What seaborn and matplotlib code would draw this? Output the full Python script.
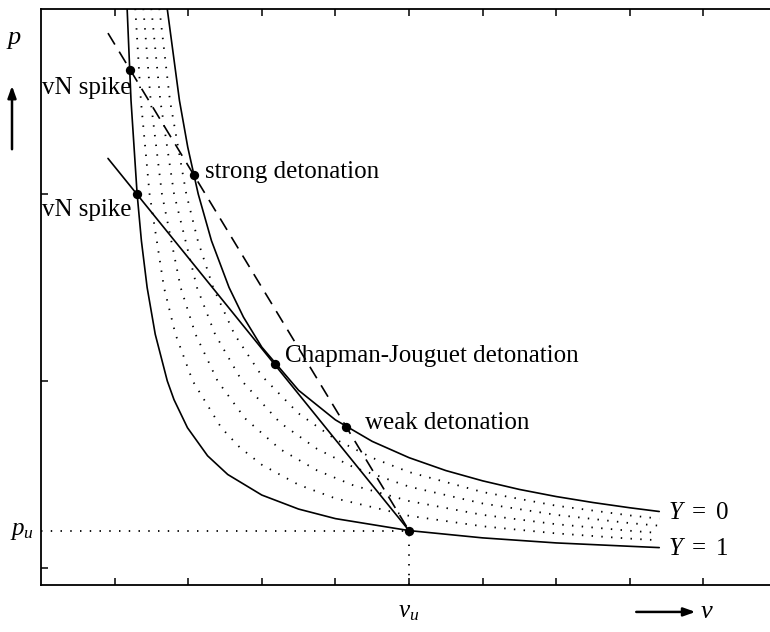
import matplotlib
matplotlib.use("Agg")
import matplotlib.pyplot as plt
import seaborn as sns
import pandas as pd

# Hugoniot curves in the (v, p) plane, Y = 1 (unreacted) ... Y = 0 (fully reacted)
v_Y1 = [1.164, 1.223, 1.306, 1.364, 1.442, 1.552, 1.716, 1.807, 1.990, 2.263, 2.537,
        3.0, 3.5, 4.0, 5.0, 6.0, 7.0, 8.0, 8.4]
p_Y1 = [4.05, 3.5, 3.0, 2.75, 2.5, 2.25, 2.0, 1.9, 1.75, 1.6, 1.5,
        1.390, 1.315, 1.264, 1.200, 1.161, 1.134, 1.116, 1.109]

v_Y08 = [1.272, 1.357, 1.475, 1.671, 1.827, 2.061, 2.449, 2.7, 3.0, 3.5, 4.0, 5.0, 6.0, 7.0, 8.0, 8.4]
p_Y08 = [4.05, 3.5, 3.0, 2.5, 2.25, 2.0, 1.75, 1.645, 1.552, 1.445, 1.372, 1.279, 1.223, 1.185, 1.157, 1.148]

v_Y06 = [1.379, 1.490, 1.643, 1.897, 2.099, 2.399, 2.772, 3.25, 3.75, 4.25, 5.0, 6.0, 7.0, 8.0, 8.4]
p_Y06 = [4.05, 3.5, 3.0, 2.5, 2.25, 2.0, 1.8, 1.635, 1.522, 1.441, 1.358, 1.284, 1.234, 1.199, 1.187]

v_Y04 = [1.485, 1.621, 1.808, 2.119, 2.365, 2.730, 3.25, 3.75, 4.25, 5.0, 6.0, 7.0, 8.0, 8.4]
p_Y04 = [4.05, 3.5, 3.0, 2.5, 2.25, 2.0, 1.776, 1.637, 1.538, 1.435, 1.345, 1.284, 1.240, 1.226]

v_Y02 = [1.591, 1.752, 1.974, 2.131, 2.339, 2.628, 3.0, 3.5, 4.0, 4.5, 5.0, 6.0, 7.0, 8.0, 8.4]
p_Y02 = [4.05, 3.5, 3.0, 2.75, 2.5, 2.25, 2.027, 1.826, 1.688, 1.589, 1.513, 1.406, 1.333, 1.281, 1.264]

v_Y0 = [1.695, 1.881, 1.994, 2.136, 2.316, 2.555, 2.75, 3.0, 3.5, 4.0, 4.5, 5.0, 5.5,
        6.0, 6.5, 7.0, 7.5, 8.0, 8.4]
p_Y0 = [4.05, 3.5, 3.25, 3.0, 2.75, 2.5, 2.342, 2.181, 1.950, 1.792, 1.677, 1.590, 1.521,
        1.466, 1.420, 1.382, 1.350, 1.322, 1.302]

# unburnt state
v_u, p_u = 5.0, 1.2

# Rayleigh lines through the unburnt state
v_cj_line = [0.91, 5.0]
p_cj_line = [3.19, 1.2]
v_ov_line = [0.91, 5.0]
p_ov_line = [3.86, 1.2]

# marked states
pt_v = [1.203, 1.306, 2.075, 3.174, 4.145, 5.0]
pt_p = [3.663, 3.0, 3.100, 2.089, 1.755, 1.2]

labels = ["vN spike", "vN spike", "strong detonation",
          "Chapman-Jouguet detonation", "weak detonation"]
label_v = [0.014, 0.014, 2.228, 3.315, 4.402]
label_p = [3.567, 2.914, 3.118, 2.134, 1.775]

x_ticks = [1, 2, 3, 4, 5, 6, 7, 8, 9]
y_ticks = [1, 2, 3]

sns.set_style("ticks")
plt.rcParams["font.family"] = ["Liberation Serif", "DejaVu Serif"]
plt.rcParams["mathtext.fontset"] = "custom"
plt.rcParams["mathtext.it"] = "Liberation Serif:italic"
plt.rcParams["mathtext.rm"] = "Liberation Serif"
plt.rcParams["text.color"] = "black"

fig = plt.figure(figsize=(7.7, 6.32), dpi=100)
ax = fig.add_axes([41 / 770, 47 / 632, 729 / 770, 576 / 632])

lw = 1.2
dot = (0, (0.8, 4.6))

def curve(v, p, style, width=lw):
    df = pd.DataFrame({"v": v, "p": p})
    sns.lineplot(data=df, x="v", y="p", ax=ax, sort=False, estimator=None,
                 color="black", linewidth=width, linestyle=style)

curve(v_Y1, p_Y1, "-")
for v, p in [(v_Y08, p_Y08), (v_Y06, p_Y06), (v_Y04, p_Y04), (v_Y02, p_Y02)]:
    curve(v, p, dot, 1.3)
curve(v_Y0, p_Y0, "-")
curve(v_cj_line, p_cj_line, "-")
curve(v_ov_line, p_ov_line, (0, (8, 5)))

# reference lines to the unburnt state
ax.plot([0, v_u], [p_u, p_u], color="black", linewidth=1.3, linestyle=dot)
ax.plot([v_u, v_u], [0.909, p_u], color="black", linewidth=1.3, linestyle=dot)

sns.scatterplot(x=pt_v, y=pt_p, ax=ax, color="black", s=45, edgecolor="black",
                linewidth=0, zorder=5)

fs = 18
for t, x, y in zip(labels, label_v, label_p):
    ax.text(x, y, t, fontsize=fs, va="center", ha="left", color="black")

lab_y = 0.765
ax.text(8.52, 1.294, "$Y\\ =\\ 0$", fontsize=fs, va="center", ha="left")
ax.text(8.52, 1.102, "$Y\\ =\\ 1$", fontsize=fs, va="center", ha="left")
ax.text(v_u, lab_y, "$v_u$", fontsize=fs, va="center", ha="center", clip_on=False)
ax.text(-0.1, p_u, "$p_u$", fontsize=fs, va="center", ha="right", clip_on=False)
ax.text(9.05, lab_y, "$v$", fontsize=fs + 1, va="center", ha="center", clip_on=False)
ax.annotate("", xy=(8.93, lab_y), xytext=(8.05, lab_y), xycoords="data",
            arrowprops=dict(arrowstyle="-|>,head_length=0.7,head_width=0.25",
                            color="black", lw=1.8), annotation_clip=False)
fig.text(14 / 770, 1 - 40 / 632, "$p$", fontsize=fs + 1, va="center", ha="center")
ax.annotate("", xy=(12 / 770, 1 - 83 / 632), xytext=(12 / 770, 1 - 152 / 632),
            xycoords="figure fraction",
            arrowprops=dict(arrowstyle="-|>,head_length=0.7,head_width=0.25",
                            color="black", lw=1.8))

ax.set_xlim(0, 9.905)
ax.set_ylim(0.909, 3.989)
ax.set_xticks(x_ticks)
ax.set_yticks(y_ticks)
ax.set_xticklabels([])
ax.set_yticklabels([])
ax.set_xlabel("")
ax.set_ylabel("")
ax.tick_params(axis="x", direction="in", top=True, bottom=True, length=5, width=1.1,
               color="black")
ax.tick_params(axis="y", direction="in", left=True, right=False, length=5, width=1.1,
               color="black")
for side in ["left", "bottom", "top"]:
    ax.spines[side].set_linewidth(1.3)
    ax.spines[side].set_color("black")
ax.spines["right"].set_visible(False)

fig.savefig("out.png", dpi=100)
